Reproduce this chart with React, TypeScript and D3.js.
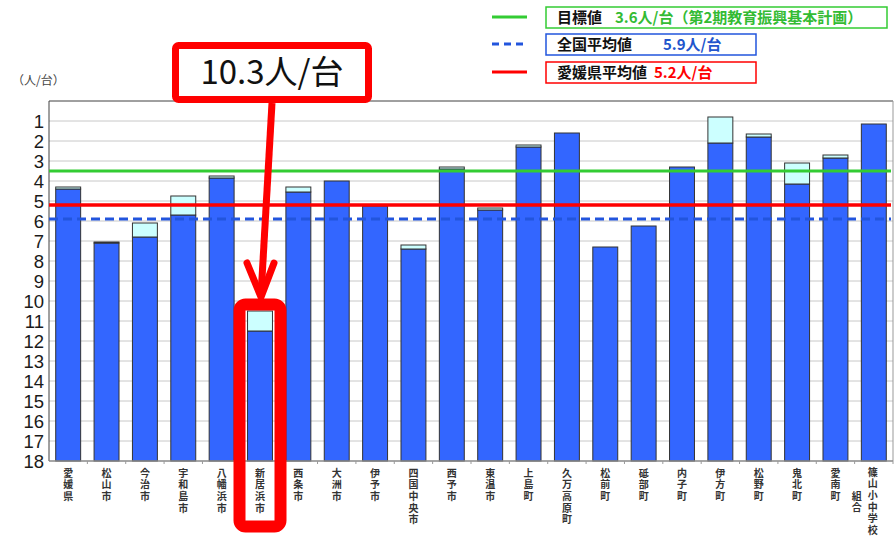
import React from "react";
import * as d3 from "d3";

const categories = [
  "愛媛県", "松山市", "今治市", "宇和島市", "八幡浜市", "新居浜市", "西条市",
  "大洲市", "伊予市", "四国中央市", "西予市", "東温市", "上島町", "久万高原町",
  "松前町", "砥部町", "内子町", "伊方町", "松野町", "鬼北町", "愛南町",
  "篠山小中学校組合",
];
// top of the blue part
const blueValues = [
  4.4, 7.1, 6.8, 5.7, 3.85, 11.5, 4.55, 4.0, 5.25, 7.4, 3.4, 5.45, 2.3, 1.6,
  7.3, 6.25, 3.3, 2.1, 1.8, 4.15, 2.85, 1.15,
];
// top of the light cap
const capValues = [
  4.3, 7.05, 6.1, 4.75, 3.75, 10.5, 4.3, 4.0, 5.25, 7.2, 3.3, 5.35, 2.2, 1.6,
  7.3, 6.25, 3.3, 0.8, 1.65, 3.1, 2.7, 1.15,
];
const yTicks = d3.range(1, 19);
const targetLine = 3.5;
const nationalLine = 5.9;
const prefLine = 5.2;

const W = 895;
const H = 538;
const left = 49;
const right = 893;
const top = 101;
const bottom = 461;

const jp = "'Noto Sans CJK JP', 'Noto Sans', sans-serif";
const num = "'Liberation Sans', Arial, sans-serif";

export default function App() {
  const x = d3
    .scaleBand<string>()
    .domain(categories)
    .range([left, right])
    .paddingInner(0.35)
    .paddingOuter(0.175);
  const y = d3.scaleLinear().domain([0, 18]).range([top, bottom]);
  const bw = x.bandwidth();
  const hiCx = (x("新居浜市") as number) + bw / 2;

  const legend = [
    { color: "#33cc33", dash: "", label: "目標値", value: "3.6人/台（第2期教育振興基本計画）", y: 17, bw: 341, vx: 615, tc: "#33bb33" },
    { color: "#2255dd", dash: "7,5", label: "全国平均値", value: "5.9人/台", y: 44, bw: 210, vx: 663, tc: "#2255cc" },
    { color: "#ff0000", dash: "", label: "愛媛県平均値", value: "5.2人/台", y: 72, bw: 210, vx: 654, tc: "#ff0000" },
  ];

  // vertical label, one text per column
  const vLabel = (s: string, cx: number, y0: number) => (
    <text
      x={cx}
      y={y0}
      fontFamily={jp}
      fontSize={10}
      fontWeight="bold"
      fill="#333"
      letterSpacing={1.6}
      style={{ writingMode: "vertical-rl" }}
    >
      {s}
    </text>
  );

  return (
    <svg width={W} height={H} style={{ position: "absolute", left: 0, top: 0, background: "#fff" }}>
      {/* unit label */}
      <text x={12} y={85} fontFamily={jp} fontSize={12} fill="#444">（人/台）</text>

      {/* gridlines */}
      {yTicks.slice(0, -1).map((t) => (
        <line key={t} x1={left} x2={right} y1={y(t)} y2={y(t)} stroke="#c8c8c8" strokeWidth={1} />
      ))}
      {yTicks.map((t) => (
        <text key={t} x={44} y={y(t) + 6.5} textAnchor="end" fontFamily={num} fontSize={18.5} fill="#1a1a1a">
          {t}
        </text>
      ))}

      {/* bars */}
      {categories.map((c, i) => {
        const bx = x(c) as number;
        return (
          <g key={c}>
            <rect x={bx} y={y(blueValues[i])} width={bw} height={y(18) - y(blueValues[i])} fill="#3366ff" stroke="#333" strokeWidth={1} />
            {capValues[i] < blueValues[i] && (
              <rect x={bx} y={y(capValues[i])} width={bw} height={y(blueValues[i]) - y(capValues[i])} fill="#ccffff" stroke="#333" strokeWidth={1} />
            )}
          </g>
        );
      })}

      {/* frame */}
      <line x1={left} x2={right} y1={top} y2={top} stroke="#404040" strokeWidth={1} />
      <line x1={left} x2={left} y1={top} y2={bottom} stroke="#404040" strokeWidth={1} />
      <line x1={right} x2={right} y1={top} y2={bottom} stroke="#999" strokeWidth={1} />
      <line x1={left} x2={right} y1={bottom} y2={bottom} stroke="#888" strokeWidth={1.5} />
      {categories.map((c, i) => {
        const tx = left + (i + 1) * x.step();
        return <line key={c} x1={tx} x2={tx} y1={bottom} y2={bottom + 3} stroke="#999" />;
      })}

      {/* reference lines */}
      <line x1={left} x2={right - 2} y1={y(targetLine)} y2={y(targetLine)} stroke="#33cc33" strokeWidth={3} />
      <line x1={left} x2={right - 2} y1={y(prefLine)} y2={y(prefLine)} stroke="#ff0000" strokeWidth={3.5} />
      <line x1={left} x2={right - 2} y1={y(nationalLine)} y2={y(nationalLine)} stroke="#2255dd" strokeWidth={3} strokeDasharray="9,5" />

      {/* category labels, vertical */}
      {categories.map((c) => {
        const cx = (x(c) as number) + bw / 2;
        if (c === "篠山小中学校組合") {
          return (
            <g key={c}>
              {vLabel("篠山小中学校", cx - 1, 467)}
              {vLabel("組合", cx - 17, 491)}
            </g>
          );
        }
        return <g key={c}>{vLabel(c, cx, 468)}</g>;
      })}

      {/* legend */}
      {legend.map((l) => (
        <g key={l.label}>
          <line x1={492} x2={527} y1={l.y} y2={l.y} stroke={l.color} strokeWidth={3} strokeDasharray={l.dash} />
          <rect x={546} y={l.y - 10} width={l.bw} height={21} fill="#fff" stroke={l.color} strokeWidth={1.5} />
          <text x={557} y={l.y + 5.5} fontFamily={jp} fontSize={15} fontWeight="bold" fill="#111">{l.label}</text>
          <text x={l.vx} y={l.y + 5.5} fontFamily={jp} fontSize={15} fontWeight="bold" fill={l.tc}>{l.value}</text>
        </g>
      ))}

      {/* annotation */}
      <rect x={239.5} y={304.5} width={41} height={222} rx={6} fill="none" stroke="#ff0000" strokeWidth={12} />
      <line x1={272} y1={103} x2={hiCx + 1} y2={296} stroke="#ff0000" strokeWidth={7} />
      <polyline points={`${hiCx - 13},${263} ${hiCx + 1},${297} ${hiCx + 14},${263}`} fill="none" stroke="#ff0000" strokeWidth={7} strokeLinecap="round" strokeLinejoin="round" />
      <rect x={175.5} y={45.5} width={193} height={54} rx={3} fill="#fff" stroke="#ff0000" strokeWidth={7} />
      <text x={272} y={84} textAnchor="middle" fontFamily={jp} fontSize={33} fill="#111">10.3人/台</text>
    </svg>
  );
}
